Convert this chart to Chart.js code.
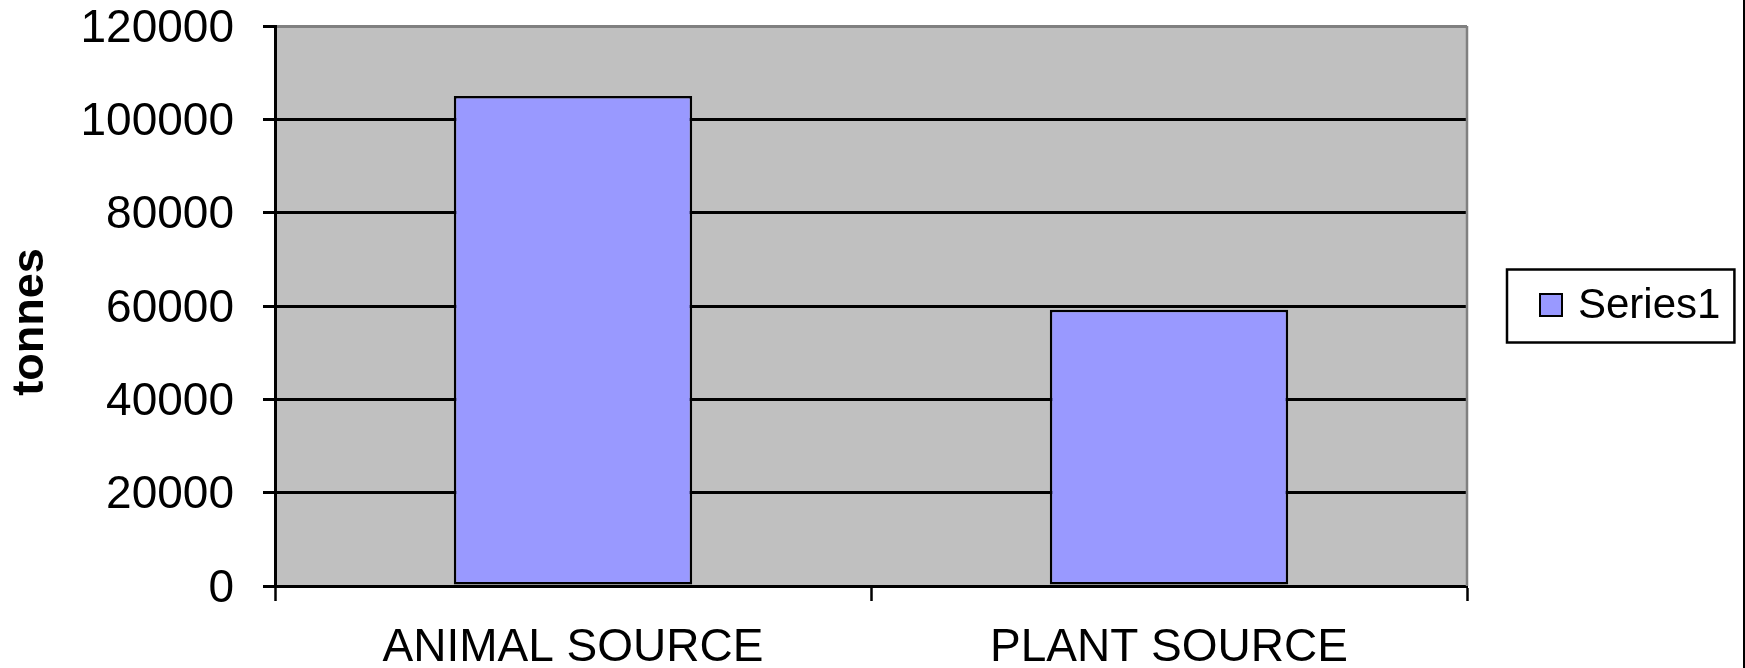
<!DOCTYPE html>
<html>
<head>
<meta charset="utf-8">
<script src="https://cdn.jsdelivr.net/npm/chart.js@4"></script>
<style>
  html, body { margin: 0; padding: 0; background: #fff; }
  #wrap { width: 1745px; height: 668px; }
</style>
</head>
<body>
<div id="wrap"><canvas id="myChart" width="1745" height="668"></canvas></div>
<script>
const categories = ['ANIMAL SOURCE', 'PLANT SOURCE'];
const seriesName = 'Series1';
const seriesValues = [105000, 59200];
const yMin = 0;
const yMax = 120000;
const yStep = 20000;
const yTitle = 'tonnes';

const FONT = '"Liberation Sans", Arial, sans-serif';

// grey plot area + grey right edge, like the old Excel look
const plotArea = {
  id: 'plotArea',
  beforeDraw(chart) {
    const { ctx, chartArea: a } = chart;
    ctx.save();
    ctx.fillStyle = '#c0c0c0';
    ctx.fillRect(a.left, a.top, a.right - a.left, a.bottom - a.top);
    ctx.restore();
  },
  beforeDatasetsDraw(chart) {
    const { ctx, chartArea: a } = chart;
    ctx.save();
    ctx.strokeStyle = '#808080';
    ctx.lineWidth = 2.5;
    ctx.beginPath();
    ctx.moveTo(a.right, a.top);
    ctx.lineTo(a.right, a.bottom);
    ctx.stroke();
    ctx.restore();
  },
  afterDraw(chart) {
    const { ctx, chartArea: a } = chart;
    ctx.save();
    ctx.fillStyle = '#000';
    ctx.fillRect(chart.width - 2, 0, 2, chart.height);
    // y title, sits a bit below the middle of the plot
    ctx.translate(31, (a.top + a.bottom) / 2 + 16);
    ctx.rotate(-Math.PI / 2);
    ctx.font = 'bold 45px ' + FONT;
    ctx.textAlign = 'center';
    ctx.textBaseline = 'middle';
    ctx.fillText(yTitle, 0, 0);
    ctx.restore();
  }
};

// legend with a box around it, to the right of the plot
const boxedLegend = {
  id: 'boxedLegend',
  afterDraw(chart) {
    const { ctx, chartArea: a } = chart;
    const ds = chart.data.datasets[0];
    ctx.save();
    ctx.font = '42px ' + FONT;
    const tw = ctx.measureText(ds.label).width;
    const h = 73;
    const left = a.right + 40;
    const top = (a.top + a.bottom) / 2 - h / 2;
    const w = 33 + 22 + 16 + tw + 14;
    ctx.fillStyle = '#fff';
    ctx.fillRect(left, top, w, h);
    ctx.strokeStyle = '#000';
    ctx.lineWidth = 2.5;
    ctx.strokeRect(left, top, w, h);
    const my = top + h / 2 - 1;
    ctx.fillStyle = ds.backgroundColor;
    ctx.fillRect(left + 33, my - 11, 22, 22);
    ctx.lineWidth = 2;
    ctx.strokeRect(left + 33, my - 11, 22, 22);
    ctx.fillStyle = '#000';
    ctx.textBaseline = 'middle';
    ctx.fillText(ds.label, left + 33 + 22 + 16, my + 1);
    ctx.restore();
  }
};

new Chart(document.getElementById('myChart').getContext('2d'), {
  type: 'bar',
  data: {
    labels: categories,
    datasets: [{
      label: seriesName,
      data: seriesValues,
      backgroundColor: '#9999ff',
      borderColor: '#000',
      borderWidth: 2.5,
      borderSkipped: false,
      categoryPercentage: 1,
      barPercentage: 0.4
    }]
  },
  options: {
    responsive: false,
    animation: false,
    devicePixelRatio: 1,
    layout: { padding: { left: 0, top: 26, right: 278, bottom: 0 } },
    plugins: {
      legend: { display: false },
      title: { display: false },
      tooltip: { enabled: false }
    },
    scales: {
      x: {
        grid: {
          offset: true,
          drawOnChartArea: false,
          drawTicks: true,
          tickLength: 15,
          tickColor: '#000',
          tickWidth: 2.5,
          color: '#000'
        },
        border: { display: true, color: '#000', width: 3 },
        ticks: {
          color: '#000',
          padding: 24,
          maxRotation: 0,
          font: { family: FONT, size: 46, lineHeight: 1 }
        },
        afterFit(scale) { scale.height = 82; }
      },
      y: {
        min: yMin,
        max: yMax,
        grid: {
          color: ctx => (ctx.tick && ctx.tick.value === yMax) ? '#808080' : '#000',
          tickColor: '#000',
          lineWidth: 3,
          tickLength: 12
        },
        border: { display: true, color: '#000', width: 3 },
        ticks: {
          stepSize: yStep,
          color: '#000',
          padding: 29,
          labelOffset: 3,
          font: { family: FONT, size: 46, lineHeight: 1 },
          callback: v => String(v)
        },
        afterFit(scale) {
          scale.width = 275;
          // labels may poke above the plot, the top padding handles it
          scale.paddingTop = 0;
          scale.paddingBottom = 0;
        }
      }
    }
  },
  plugins: [plotArea, boxedLegend]
});
</script>
</body>
</html>
